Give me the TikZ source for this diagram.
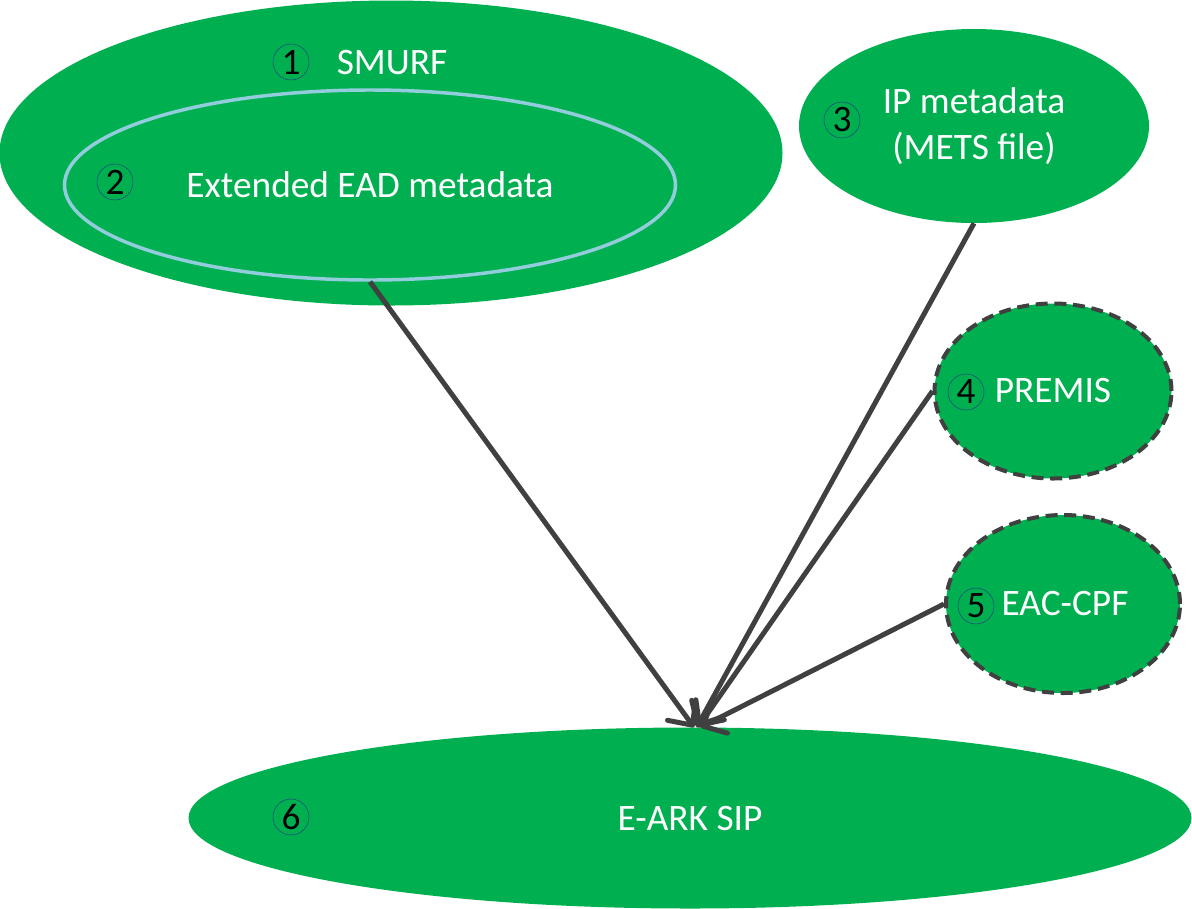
\documentclass[tikz,border=0pt]{standalone}
\usepackage{fontspec}
\setmainfont{Carlito}
\usepackage{tikz}
\usetikzlibrary{shapes.geometric}
\usetikzlibrary{arrows.meta}

\definecolor{sipgreen}{HTML}{00B050}
\definecolor{arrowgray}{HTML}{404040}
\definecolor{eadblue}{HTML}{93CDDD}
\definecolor{numblue}{HTML}{1F497D}

\tikzset{
  blob/.style={ellipse,fill=sipgreen,inner sep=0pt,text=white,align=center,
    font=\fontsize{28}{35}\selectfont},
  optblob/.style={blob,draw=arrowgray,line width=3pt,dash pattern=on 9pt off 5pt},
  num/.style={circle,draw=numblue,line width=.4pt,minimum size=27pt,inner sep=0pt,
    font=\fontsize{28}{28}\selectfont},
  feed/.style={draw=arrowgray,line width=3.75pt,-{Straight Barb[length=14pt,width=26pt,round]}}
}

\begin{document}
\begin{tikzpicture}[x=.75pt,y=-.75pt]
  \useasboundingbox (0,0) rectangle (1192,908);

  \node[blob,minimum width=587.25pt,minimum height=228.75pt] (smurf) at (391,153) {};
  \node[blob,draw=eadblue,line width=2.6pt,minimum width=458.25pt,minimum height=142.5pt] (ead) at (370,185) {Extended EAD metadata};
  \node[text=white,font=\fontsize{28}{35}\selectfont] (smurftxt) at (392,63) {SMURF};
  \node[blob,minimum width=262.5pt,minimum height=145.5pt] (ip) at (974,126) {IP metadata\\(METS file)};
  \node[optblob,minimum width=177.75pt,minimum height=131.25pt] (premis) at (1053,391) {PREMIS};
  \node[optblob,minimum width=175.5pt,minimum height=133.5pt] (eac) at (1063,604) {\hspace*{3pt}EAC-CPF};
  \node[blob,minimum width=752.25pt,minimum height=135.75pt] (sip) at (690,818) {E-ARK SIP};

  % numbering
  \node[num] (n1) at (291,62) {1};
  \node[num] (n2) at (115,182) {2};
  \node[num] (n3) at (842,120) {3};
  \node[num] (n4) at (966,392) {4};
  \node[num] (n5) at (976,606) {5};
  \node[num] (n6) at (291,817) {6};

  \draw[feed] (ead.south) -- ([xshift=3pt]sip.north);
  \draw[feed] (ip.south) -- ([xshift=5pt]sip.north);
  \draw[feed] (premis.west) -- ([xshift=6pt]sip.north);
  \draw[feed] (eac.west) -- ([xshift=8pt]sip.north);
\end{tikzpicture}
\end{document}
